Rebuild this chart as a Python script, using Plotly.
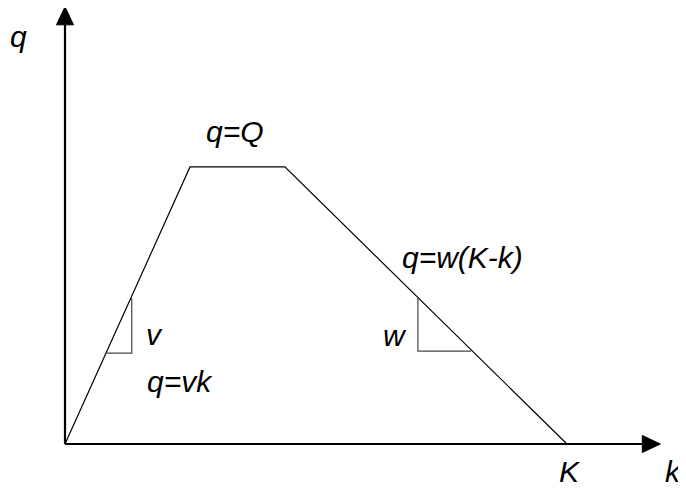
import plotly.graph_objects as go

# Model units (k: density, q: flow)
K_jam = 100.0        # jam density K
k_c1 = 24.9          # start of capacity plateau
k_c2 = 43.8          # end of capacity plateau
Q_cap = 55.2         # capacity Q

diagram_k = [0.0, k_c1, k_c2, K_jam]
diagram_q = [0.0, Q_cap, Q_cap, 0.0]

# slope triangles
v_tri_k = [8.2, 13.3, 13.3]
v_tri_q = [18.1, 18.1, 29.1]
w_tri_k = [70.3, 70.3, 80.9]
w_tri_q = [29.1, 18.5, 18.5]

# axis extents
x_axis_end = 115.0
y_axis_end = 83.5
head_len = 3.6
head_half = 1.7

labels = [
    ("q", -9.2, 81.1),
    ("k", 121.2, -5.5),
    ("K", 100.6, -5.5),
    ("q=Q", 33.9, 62.2),
    ("q=w(K-k)", 79.1, 37.2),
    ("v", 17.9, 21.9),
    ("w", 65.7, 21.7),
    ("q=vk", 22.9, 12.5),
]

fig = go.Figure()
fig.add_trace(go.Scatter(x=diagram_k, y=diagram_q, mode="lines",
                         line=dict(color="black", width=1.2), hoverinfo="skip"))
fig.add_trace(go.Scatter(x=v_tri_k, y=v_tri_q, mode="lines",
                         line=dict(color="#444444", width=1.2), hoverinfo="skip"))
fig.add_trace(go.Scatter(x=w_tri_k, y=w_tri_q, mode="lines",
                         line=dict(color="#444444", width=1.2), hoverinfo="skip"))
# axes
fig.add_trace(go.Scatter(x=[0, x_axis_end], y=[0, 0], mode="lines",
                         line=dict(color="black", width=2.2), hoverinfo="skip"))
fig.add_trace(go.Scatter(x=[0, 0], y=[0, y_axis_end], mode="lines",
                         line=dict(color="black", width=2.2), hoverinfo="skip"))
# arrowheads
fig.add_trace(go.Scatter(x=[x_axis_end, x_axis_end + head_len, x_axis_end, x_axis_end],
                         y=[head_half, 0, -head_half, head_half], mode="lines",
                         fill="toself", fillcolor="black",
                         line=dict(color="black", width=1), hoverinfo="skip"))
fig.add_trace(go.Scatter(x=[-head_half, 0, head_half, -head_half],
                         y=[y_axis_end, y_axis_end + head_len, y_axis_end, y_axis_end],
                         mode="lines", fill="toself", fillcolor="black",
                         line=dict(color="black", width=1), hoverinfo="skip"))

for txt, x, y in labels:
    fig.add_annotation(x=x, y=y, text="<i>" + txt + "</i>", showarrow=False,
                       xanchor="center", yanchor="middle",
                       font=dict(family="Liberation Sans, Arial, sans-serif",
                                 size=30, color="black"))

# page has an 8px body margin; the figure is sized to fit the window
px_per_unit = 5.02
off = 8
fig.update_layout(
    width=686 - off, height=488 - off,
    margin=dict(l=0, r=0, t=0, b=0),
    paper_bgcolor="white", plot_bgcolor="white",
    showlegend=False,
    xaxis=dict(range=[(off - 65) / px_per_unit, (686 - 65) / px_per_unit], visible=False,
               fixedrange=True),
    yaxis=dict(range=[(444 - 488) / px_per_unit, (444 - off) / px_per_unit], visible=False,
               fixedrange=True),
)

fig.write_html("out.html")
